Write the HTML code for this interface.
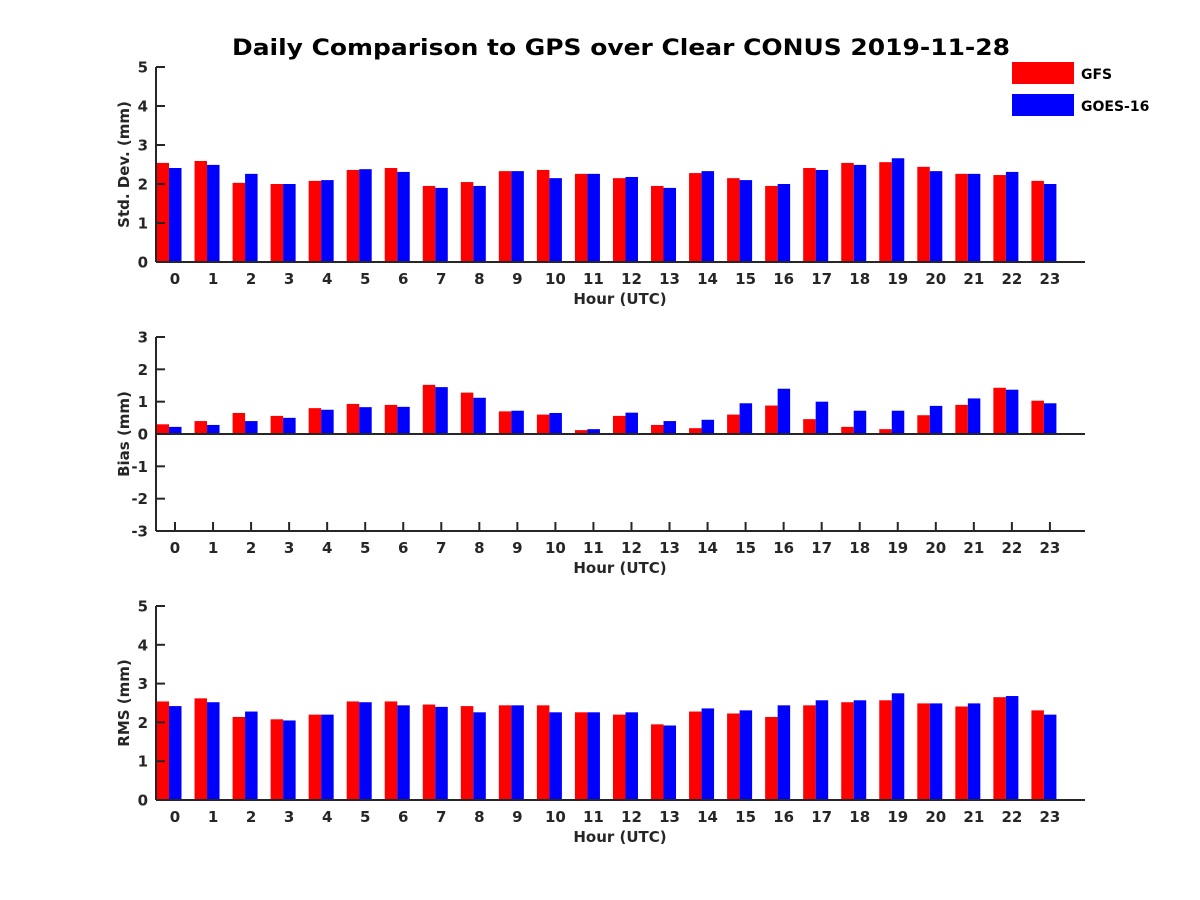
<!DOCTYPE html>
<html><head><meta charset="utf-8"><style>
body{margin:0;background:#fff}
svg{display:block}
text{font-family:"DejaVu Sans","Liberation Sans",sans-serif;font-weight:bold;fill:#262626}
</style></head><body>
<svg id="chart" width="1200" height="900"></svg>
<script>
const hours=[0,1,2,3,4,5,6,7,8,9,10,11,12,13,14,15,16,17,18,19,20,21,22,23];
const stdGFS=[2.54,2.59,2.03,2.0,2.08,2.36,2.41,1.95,2.05,2.33,2.36,2.26,2.15,1.95,2.28,2.15,1.95,2.41,2.54,2.56,2.44,2.26,2.23,2.08];
const stdGOES=[2.41,2.49,2.26,2.0,2.1,2.38,2.31,1.9,1.95,2.33,2.15,2.26,2.18,1.9,2.33,2.1,2.0,2.36,2.49,2.66,2.33,2.26,2.31,2.0];
const biasGFS=[0.3,0.4,0.65,0.56,0.8,0.93,0.9,1.52,1.28,0.7,0.6,0.12,0.56,0.28,0.18,0.6,0.88,0.46,0.22,0.15,0.58,0.9,1.43,1.03];
const biasGOES=[0.22,0.28,0.4,0.5,0.75,0.83,0.84,1.45,1.12,0.72,0.65,0.15,0.66,0.4,0.44,0.95,1.4,1.0,0.72,0.72,0.87,1.1,1.37,0.95];
const rmsGFS=[2.54,2.62,2.14,2.08,2.2,2.54,2.54,2.46,2.42,2.44,2.44,2.26,2.2,1.95,2.28,2.23,2.14,2.44,2.52,2.57,2.49,2.41,2.65,2.31];
const rmsGOES=[2.42,2.52,2.28,2.05,2.2,2.52,2.44,2.4,2.26,2.44,2.26,2.26,2.26,1.92,2.36,2.31,2.44,2.57,2.57,2.75,2.49,2.49,2.68,2.2];
const stdTicks=[0,1,2,3,4,5];
const biasTicks=[-3,-2,-1,0,1,2,3];
const rmsTicks=[0,1,2,3,4,5];

const NS="http://www.w3.org/2000/svg";
const svg=document.getElementById('chart');
function mk(tag,attrs,parent){const e=document.createElementNS(NS,tag);for(const k in attrs)e.setAttribute(k,attrs[k]);(parent||svg).appendChild(e);return e;}
const X0=156,X1=1085;
function xs(h){return 175+h*38.04;}

function panel(name,top,bottom,ymin,ymax,ticks,red,blue,ylabel,showTicks){
  const g=mk('g',{});
  
  
  const ys=v=>bottom-(v-ymin)/(ymax-ymin)*(bottom-top);
  const zero=ys(Math.max(0,ymin));
  hours.forEach((h,i)=>{
    const yr=ys(red[i]),yb=ys(blue[i]);
    const r=mk('rect',{x:xs(h)-18.5,y:Math.min(yr,zero),width:12.5,height:Math.abs(zero-yr),fill:'#ff0000'},g);
    
    
    const b=mk('rect',{x:xs(h)-6,y:Math.min(yb,zero),width:12.5,height:Math.abs(zero-yb),fill:'#0000ff'},g);
    
    
  });
  mk('line',{x1:X0,y1:top,x2:X0,y2:bottom,stroke:'#262626','stroke-width':2},g);
  mk('line',{x1:X0,y1:bottom,x2:X1,y2:bottom,stroke:'#262626','stroke-width':2},g);
  if(ymin<0) mk('line',{x1:X0,y1:zero,x2:X1,y2:zero,stroke:'#262626','stroke-width':2},g);
  ticks.forEach(t=>{
    const y=ys(t);
    mk('line',{x1:X0,y1:y,x2:X0+9,y2:y,stroke:'#262626','stroke-width':2},g);
    const tx=mk('text',{x:148,y:y+5.5,'text-anchor':'end','font-size':15},g);
    tx.textContent=t;
    
    
  });
  hours.forEach(h=>{
    if(showTicks) mk('line',{x1:xs(h),y1:bottom,x2:xs(h),y2:bottom-9,stroke:'#262626','stroke-width':2},g);
    const tx=mk('text',{x:xs(h),y:bottom+22,'text-anchor':'middle','font-size':15},g);
    tx.textContent=h;
    
    
  });
  const xl=mk('text',{x:620,y:bottom+42,'text-anchor':'middle','font-size':15},g);
  xl.textContent='Hour (UTC)';
  
  
  const cy=(top+bottom)/2;
  const yl=mk('text',{x:0,y:0,'text-anchor':'middle','font-size':15,transform:`translate(129,${cy}) rotate(-90)`},g);
  yl.textContent=ylabel;
  
  
}
panel('std',67,262,0,5,stdTicks,stdGFS,stdGOES,'Std. Dev. (mm)',false);
panel('bias',337,531,-3,3,biasTicks,biasGFS,biasGOES,'Bias (mm)',true);
panel('rms',606,800,0,5,rmsTicks,rmsGFS,rmsGOES,'RMS (mm)',false);

const title=mk('text',{x:232,y:55,'font-size':22,textLength:778,lengthAdjust:'spacingAndGlyphs',style:'fill:#000'});
title.textContent='Daily Comparison to GPS over Clear CONUS 2019-11-28';


const lg=mk('g',{});


mk('rect',{x:1012,y:62,width:62,height:22,fill:'#ff0000'},lg);
const t1=mk('text',{x:1081,y:79,'font-size':14,style:'fill:#000'},lg);t1.textContent='GFS';


mk('rect',{x:1012,y:94,width:62,height:22,fill:'#0000ff'},lg);
const t2=mk('text',{x:1081,y:111,'font-size':14,style:'fill:#000'},lg);t2.textContent='GOES-16';


</script>
</body></html>
